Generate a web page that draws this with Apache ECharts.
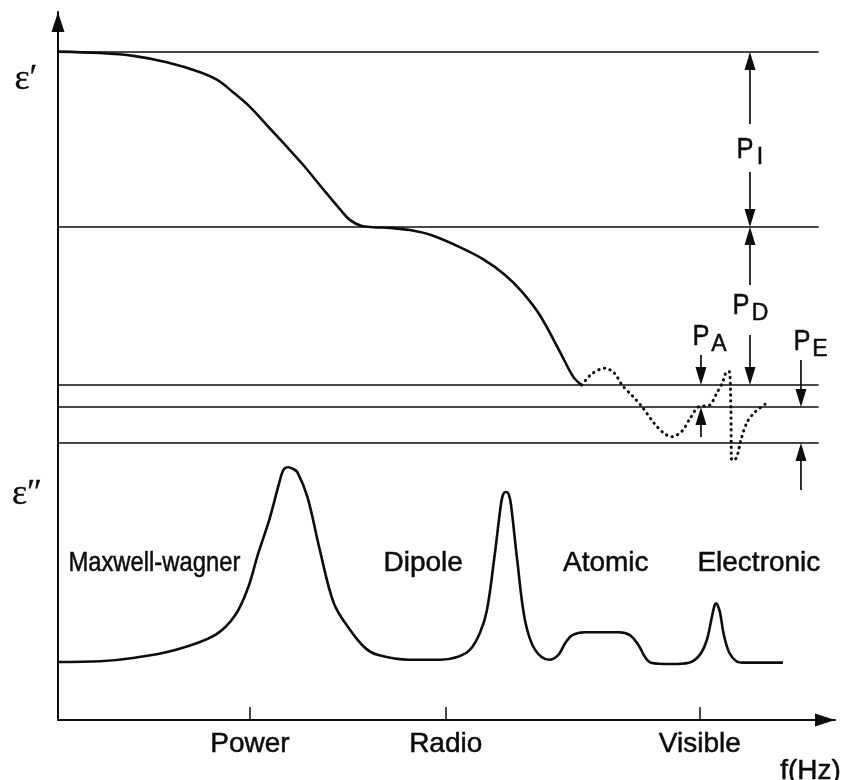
<!DOCTYPE html>
<html>
<head>
<meta charset="utf-8">
<script src="https://cdn.jsdelivr.net/npm/echarts@6/dist/echarts.min.js"></script>
<style>
  html, body { margin: 0; padding: 0; background: #fff; }
  #chart { width: 844px; height: 780px; }
</style>
</head>
<body>
<div id="chart"></div>
<script>
// Dielectric response vs. (log) frequency, schematic units 0..100 on both axes.

// frequency bands marked on the horizontal axis
const bandTicks = [24.7, 49.9, 82.6];
const bandLabels = ['Power', 'Radio', 'Visible'];

// plateau levels of the real permittivity
const levels = [94.35, 69.63, 47.32, 44.21, 39.12];
const levelEnd = 97.9;

// ε′ : relaxation steps (solid)
const epsRealRelax = [
  [0, 94.4], [5.4, 94.2], [9.7, 93.8], [14.0, 92.9], [18.3, 91.5], [20.5, 90.4],
  [22.5, 88.7], [24.7, 86.6], [26.9, 84.0], [29.0, 81.5], [31.4, 78.6], [34.1, 75.0],
  [36.4, 72.0], [37.6, 70.6], [39.0, 69.8], [40.6, 69.6], [42.7, 69.5], [45.3, 69.2],
  [48.0, 68.5], [51.7, 66.8], [54.7, 65.1], [57.5, 62.9], [59.7, 60.5], [62.0, 57.2],
  [64.6, 52.0], [66.3, 48.5], [67.4, 47.3]
];

// ε′ : resonance region (dotted)
const epsRealResonance = [
  [67.4, 47.3], [68.7, 48.9], [70.4, 49.7], [71.6, 49.0], [72.6, 47.3], [73.9, 45.8],
  [75.2, 44.2], [76.8, 41.8], [78.0, 40.5], [79.0, 40.0], [80.3, 40.8], [81.3, 42.5],
  [82.4, 44.2], [83.9, 44.5], [84.8, 46.2], [85.5, 47.6], [86.1, 49.2], [86.4, 49.2],
  [86.6, 43.8], [86.7, 36.7], [87.3, 37.0], [87.9, 39.6], [88.7, 42.1], [89.7, 43.5],
  [91.0, 44.6]
];

// ε″ : loss peaks
const epsLoss = [
  [0, 8.2], [5.4, 8.3], [9.9, 8.8], [15.1, 9.9], [20.2, 12.0], [22.8, 14.8], [24.5, 18.8],
  [25.7, 23.3], [27.2, 28.3], [28.4, 33.2], [29.0, 35.3], [29.6, 35.7], [30.2, 35.5],
  [30.8, 35.0], [32.1, 31.5], [33.7, 24.0], [35.5, 16.5], [37.6, 12.7], [39.5, 10.2],
  [41.1, 9.2], [45.2, 8.5], [49.2, 8.5], [51.4, 8.9], [53.0, 9.9], [54.3, 12.3],
  [55.2, 15.5], [56.2, 23.3], [57.0, 30.4], [57.3, 31.9], [57.7, 32.2], [58.0, 31.9],
  [58.3, 30.4], [59.1, 22.6], [60.1, 14.1], [61.4, 9.9], [63.2, 8.5], [64.4, 9.2],
  [65.3, 10.9], [66.2, 12.0], [67.8, 12.4], [72.2, 12.4], [73.6, 12.0], [74.7, 10.6],
  [75.6, 8.8], [76.3, 8.1], [78.8, 7.9], [81.2, 8.1], [82.6, 9.2], [83.5, 11.3],
  [84.2, 14.8], [84.5, 16.2], [84.7, 16.5], [84.9, 16.2], [85.2, 15.2], [85.7, 12.0],
  [86.4, 9.5], [87.3, 8.3], [88.2, 8.1], [93.3, 8.1]
];

// polarisation mechanisms
const mechanisms = ['Maxwell-wagner', 'Dipole', 'Atomic', 'Electronic'];
const mechanismX = [12.4, 47.0, 70.5, 90.2];

// dimension arrows: [x, from, to] (arrow head at "to")
const arrows = [
  [89.06, 84.18, 94.35], [89.06, 77.40, 69.63],   // P_I
  [89.06, 61.44, 69.63], [89.06, 54.38, 47.32],   // P_D
  [82.75, 51.55, 47.32], [82.75, 39.97, 44.21],   // P_A
  [95.62, 50.85, 44.21], [95.62, 32.49, 39.12]    // P_E
];
const polarNames = [['P', 'I'], ['P', 'D'], ['P', 'A'], ['P', 'E']];

const INK = '#0c0c0c';
const SANS = '"Liberation Sans", Arial, Helvetica, sans-serif';
const SERIF = '"Liberation Serif", "DejaVu Serif", serif';

const chart = echarts.init(document.getElementById('chart'), null, { renderer: 'canvas' });

const axisArrowLine = {
  show: true,
  lineStyle: { color: INK, width: 2 },
  symbol: ['none', 'triangle'],
  symbolSize: [13, 20],
  symbolOffset: [0, -10]
};

const curveStyle = { color: INK, width: 2.6 };

const option = {
  backgroundColor: '#ffffff',
  animation: false,
  grid: { left: 58, right: 9, top: 12, bottom: 60 },
  xAxis: {
    type: 'value', min: 0, max: 100,
    axisLine: axisArrowLine,
    splitLine: { show: false },
    axisTick: {
      show: true, inside: true, length: 13, customValues: bandTicks,
      lineStyle: { color: INK, width: 1.5 }
    },
    axisLabel: {
      customValues: bandTicks,
      margin: 10,
      color: INK,
      fontFamily: SANS,
      fontSize: 28,
      textBorderColor: INK,
      textBorderWidth: 0.5,
      formatter: function (v) {
        const i = bandTicks.findIndex(t => Math.abs(t - v) < 0.01);
        return i >= 0 ? bandLabels[i] : '';
      }
    }
  },
  yAxis: {
    type: 'value', min: 0, max: 100,
    axisLine: axisArrowLine,
    axisTick: { show: false },
    axisLabel: { show: false },
    splitLine: { show: false }
  },
  series: [
    {
      name: 'levels',
      type: 'lines',
      coordinateSystem: 'cartesian2d',
      silent: true,
      lineStyle: { color: INK, width: 1.5, opacity: 1 },
      data: levels.map(v => ({ coords: [[0, v], [levelEnd, v]] }))
    },
    {
      name: 'ε′ relaxation',
      type: 'line',
      data: epsRealRelax,
      smooth: 0.35,
      showSymbol: false,
      lineStyle: curveStyle
    },
    {
      name: 'ε′ resonance',
      type: 'line',
      data: epsRealResonance,
      smooth: 0.3,
      showSymbol: false,
      lineStyle: { color: INK, width: 3, type: [0.4, 5.4], cap: 'round' }
    },
    {
      name: 'ε″',
      type: 'line',
      data: epsLoss,
      smooth: 0.35,
      showSymbol: false,
      lineStyle: curveStyle
    },
    {
      name: 'arrows',
      type: 'custom',
      clip: false,
      silent: true,
      encode: { x: 0, y: [1, 2] },
      data: arrows,
      renderItem: function (params, api) {
        const x = api.value(0);
        const p0 = api.coord([x, api.value(1)]);
        const p1 = api.coord([x, api.value(2)]);
        const dir = p1[1] > p0[1] ? 1 : -1;
        const headLen = 18, headHalf = 5.5;
        const baseY = p1[1] - dir * headLen;
        return {
          type: 'group',
          children: [
            { type: 'line', shape: { x1: p0[0], y1: p0[1], x2: p1[0], y2: baseY + dir * 2 },
              style: { stroke: INK, lineWidth: 1.7 } },
            { type: 'polygon', shape: { points: [[p1[0], p1[1]], [p1[0] - headHalf, baseY], [p1[0] + headHalf, baseY]] },
              style: { fill: INK } }
          ]
        };
      }
    }
  ]
};

chart.setOption(option);

// annotations anchored to the data coordinate system
function px(x, y) { return chart.convertToPixel({ gridIndex: 0 }, [x, y]); }
const gridLeft = px(0, 0)[0];

const texts = [];
function addText(x, y, text, font, extra, weight) {
  texts.push(Object.assign({
    type: 'text', x: x, y: y, silent: true,
    style: {
      text: text, font: font, fill: INK, align: 'center', verticalAlign: 'middle',
      stroke: INK, lineWidth: weight == null ? 0.5 : weight
    }
  }, extra || {}));
}

// mechanism labels
mechanisms.forEach(function (name, i) {
  const p = px(mechanismX[i], 22.2);
  const extra = name === 'Maxwell-wagner' ? { scaleX: 0.85 } : null;
  addText(p[0], p[1], name, '28px ' + SANS, extra);
});

// polarisation symbols with subscripts
const polarAnchors = [
  { x: 89.06, y: 80.5, dp: -5, ds: 10 },
  { x: 89.06, y: 58.5, dp: -9, ds: 10 },
  { x: 82.75, y: 54.2, dp: 0, ds: 18 },
  { x: 95.62, y: 53.4, dp: 1, ds: 19 }
];
polarAnchors.forEach(function (a, i) {
  const p = px(a.x, a.y);
  addText(p[0] + a.dp, p[1], polarNames[i][0], '30px ' + SANS, { scaleX: 0.85 });
  addText(p[0] + a.ds, p[1] + 8, polarNames[i][1], '23px ' + SANS);
});

// axis names
addText(gridLeft - 32, px(0, 90.4)[1], 'ε′', '36px ' + SERIF, null, 0.3);
addText(gridLeft - 31, px(0, 31.8)[1], 'ε″', '36px ' + SERIF, null, 0.3);
const fPos = px(97.1, 0);
addText(fPos[0] - 2, fPos[1] + 51, 'f(Hz)', '28px ' + SANS);

chart.setOption({ graphic: { elements: texts } });
</script>
</body>
</html>
